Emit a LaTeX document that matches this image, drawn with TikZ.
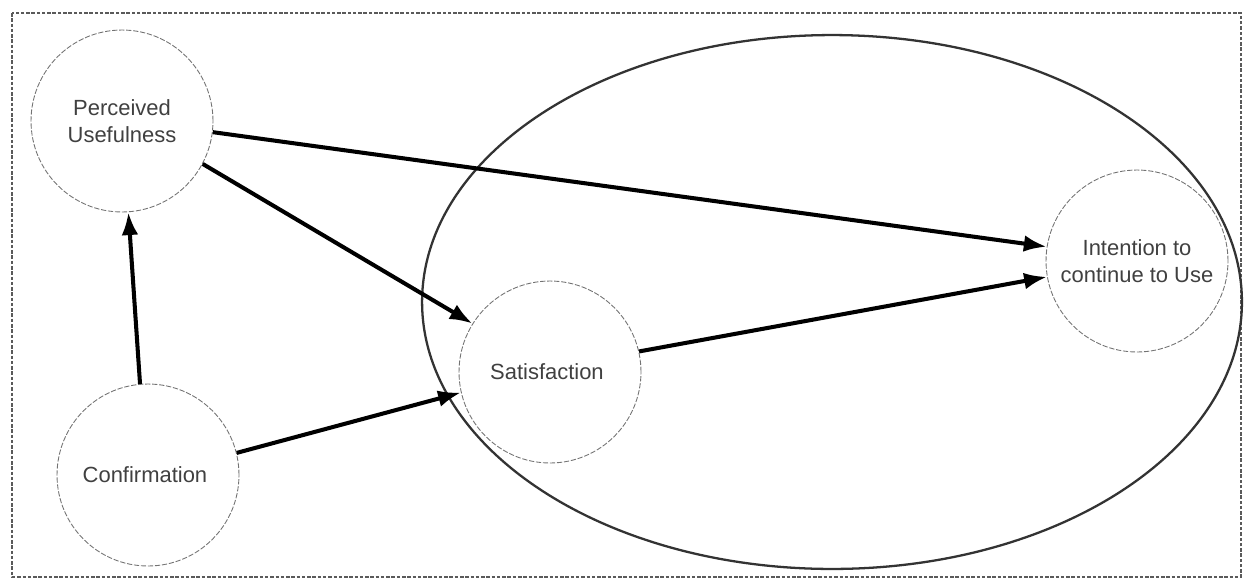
\documentclass[tikz,border=0pt]{standalone}
\usepackage{fontspec}
\setmainfont{Liberation Sans}
\usetikzlibrary{arrows.meta, shapes.geometric}
\definecolor{scangray}{HTML}{5A5A5A}

\begin{document}
\begin{tikzpicture}[
    x=0.02cm,
    y=-0.02cm,
    font=\fontsize{12.5}{15}\selectfont,
    construct/.style={
        circle,
        draw=black!55,
        line width=0.5pt,
        dash pattern=on 3pt off 1pt,
        minimum size=3.64cm,
        inner sep=0pt,
        align=center,
        text=black!75
    },
    loopellipse/.style={
        ellipse,
        draw=black!80,
        line width=1.3pt,
        minimum width=16.4cm,
        minimum height=10.68cm,
        inner sep=0pt
    },
    framebox/.style={
        draw=scangray,
        line width=0.6pt,
        dash pattern=on 2pt off 1pt
    },
    arr/.style={
        -{Latex[length=13pt,width=9.5pt]},
        draw=black,
        line width=2.3pt
    }
]

\useasboundingbox (0,0) rectangle (1244,579);

% -----------------------------------------------------
% Ramme og ellipse
% -----------------------------------------------------

\draw[framebox] (12,13) rectangle (1241,577);

\node[loopellipse] (loop) at (832,302) {};

% -----------------------------------------------------
% Noder
% -----------------------------------------------------

\node[construct] (usefulness) at (122,121)
{
    Perceived\\
    Usefulness
};

\node[construct] (confirmation) at (148,475)
{
    Confirmation
};

\node[construct] (satisfaction) at (550,372)
{
    Satisfaction
};

\node[construct] (intention) at (1137,261)
{
    Intention to\\
    continue to Use
};

% -----------------------------------------------------
% Pile
% -----------------------------------------------------

\draw[arr] (confirmation.95) -- (usefulness.-86);
\draw[arr] (confirmation.14) -- (satisfaction.193);

\draw[arr] (usefulness.-7) -- (intention.171);
\draw[arr] (usefulness.-28) -- (satisfaction.148);

\draw[arr] (satisfaction.13) -- (intention.190);

\end{tikzpicture}
\end{document}
